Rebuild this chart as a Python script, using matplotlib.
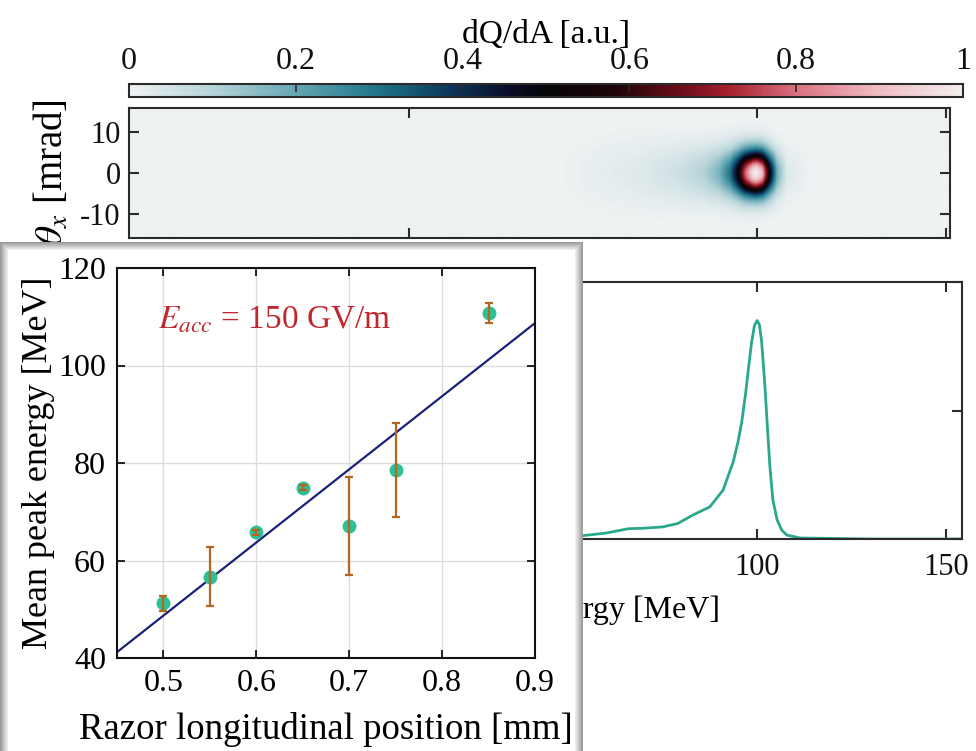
import numpy as np
import matplotlib.pyplot as plt
from matplotlib.colors import LinearSegmentedColormap
from matplotlib.patches import Rectangle

plt.rcParams['font.family'] = ['Liberation Serif', 'DejaVu Serif']
plt.rcParams['mathtext.fontset'] = 'stix'

# energy spectrum (lower panel)
spec_energy = [-66, 0, 30, 52, 60, 66, 70, 75, 79, 83, 87.5, 91, 93.7, 95, 96, 97,
               97.7, 98.5, 99.3, 100, 100.6, 101.2, 102.1, 102.8, 103.4, 104.2,
               105.3, 106.5, 107.9, 111.4, 130, 154]
spec_value = [0.0, 0.0, 0.002, 0.01, 0.023, 0.04, 0.042, 0.047, 0.06, 0.093, 0.125,
              0.19, 0.30, 0.38, 0.46, 0.57, 0.66, 0.76, 0.83, 0.85, 0.835, 0.77, 0.59,
              0.42, 0.28, 0.15, 0.075, 0.035, 0.015, 0.004, 0.0, 0.0]

# on-axis charge density and angular width of the beam map (upper panel)
map_energy = [45, 55, 70, 80, 86, 90, 93, 95, 97, 99, 100, 101.5, 103.5, 105.5, 108, 115]
map_peak = [0.0, 0.01, 0.03, 0.06, 0.1, 0.17, 0.3, 0.5, 0.78, 0.97, 1.0, 0.9, 0.5, 0.18, 0.03, 0.0]
map_width = [6, 6, 5.5, 5, 4.6, 4.3, 4.1, 4, 3.9, 3.8, 3.8, 3.8, 3.8, 3.8, 3.8, 3.8]

# inset: mean peak energy vs razor position
razor_pos = [0.5, 0.55, 0.6, 0.65, 0.7, 0.75, 0.85]
peak_energy = [51.2, 56.7, 65.8, 74.9, 67.1, 78.6, 110.8]
peak_err = [1.5, 6.0, 0.5, 0.5, 10.0, 9.6, 2.1]
fit_slope = 150.0      # MeV/mm
fit_intercept = -26.3  # MeV

cmap = LinearSegmentedColormap.from_list('dqda', [
    (0.0, '#eef2f2'), (0.1, '#b5d3d9'), (0.2, '#64a6b3'), (0.3, '#1d7388'),
    (0.38, '#0d3a5e'), (0.45, '#0b0f2c'), (0.5, '#050507'), (0.58, '#1c0508'),
    (0.66, '#6a0c18'), (0.72, '#a5202c'), (0.8, '#d9707f'), (0.9, '#efbcc3'),
    (1.0, '#f3eeee')])

W, H = 976, 751


def box(x0, y0, x1, y1):
    # pixel box (top-left origin) -> figure fraction rect
    return [x0 / W, 1 - y1 / H, (x1 - x0) / W, (y1 - y0) / H]


fig = plt.figure(figsize=(9.76, 7.51), dpi=100)
spine_c = '#2b2b2b'

# --- upper map ---
ax_map = fig.add_axes(box(129, 108, 950, 238))
e_grid = np.linspace(-66.1, 151.1, 900)
t_grid = np.linspace(-16, 16, 200)
amp = np.interp(e_grid, map_energy, map_peak)
sig = np.interp(e_grid, map_energy, map_width)
img = amp[None, :] * np.exp(-t_grid[:, None] ** 2 / (2 * sig[None, :] ** 2))
im = ax_map.imshow(img, extent=[-66.1, 151.1, -16, 16], origin='lower', aspect='auto',
                   cmap=cmap, vmin=0, vmax=1, interpolation='bilinear')
ax_map.set_xlim(-66.1, 151.1)
ax_map.set_ylim(-16, 16)
ax_map.set_xticks([8, 100, 150])
ax_map.set_xticklabels([])
ax_map.set_yticks([-10, 0, 10])
ax_map.set_yticklabels(['-10', '0', '10'])
ax_map.tick_params(direction='in', length=7, width=1.5, top=True, right=True,
                   labelsize=22, colors=spine_c, labelcolor='#111111', pad=6)
ax_map.set_ylabel(r'$\theta_x$ [mrad]', fontsize=28, labelpad=6)
for s in ax_map.spines.values():
    s.set_color(spine_c)
    s.set_linewidth(1.5)

# --- colorbar ---
cax = fig.add_axes(box(129, 84, 963, 97))
cb = fig.colorbar(im, cax=cax, orientation='horizontal', ticks=[0, 0.2, 0.4, 0.6, 0.8, 1])
cb.set_ticklabels(['0', '0.2', '0.4', '0.6', '0.8', '1'])
cax.xaxis.set_ticks_position('top')
cax.xaxis.set_label_position('top')
cax.tick_params(direction='in', length=6, width=1.2, labelsize=23, pad=6, colors=spine_c,
                labelcolor='#111111')
cb.set_label('dQ/dA [a.u.]', fontsize=24, labelpad=3)
cb.outline.set_edgecolor(spine_c)
cb.outline.set_linewidth(1.5)

# --- lower spectrum ---
ax_sp = fig.add_axes(box(129, 282, 962, 539))
ax_sp.plot(spec_energy, spec_value, color='#2aa88c', lw=2)
ax_sp.set_xlim(-66.1, 154.2)
ax_sp.set_ylim(0, 1)
ax_sp.set_xticks([0, 50, 100, 150])
ax_sp.set_yticks([0, 0.5, 1])
ax_sp.tick_params(direction='in', length=7, width=1.5, top=True, right=True,
                  labelleft=False, labelsize=22, colors=spine_c, labelcolor='#111111', pad=10)
ax_sp.set_xlabel('Energy [MeV]', fontsize=23, labelpad=4)
ax_sp.xaxis.set_label_coords(0.597, -0.22)
for s in ax_sp.spines.values():
    s.set_color(spine_c)
    s.set_linewidth(1.5)

# --- inset panel with shaded border ---
ax_pan = fig.add_axes(box(0, 242, 583, 751))
ax_pan.set_zorder(5)
ax_pan.set_xlim(0, 583)
ax_pan.set_ylim(509, 0)
ax_pan.axis('off')
shades = ['#9a9a9a', '#a6a6a6', '#b3b3b3', '#bfbfbf', '#cbcbcb', '#d7d7d7', '#e2e2e2', '#ececec', '#ffffff']
for i, c in enumerate(shades):
    ax_pan.add_patch(Rectangle((i, i), 583 - 2 * i, 600, facecolor=c, edgecolor='none'))

ax_in = fig.add_axes(box(117, 268, 535, 658))
ax_in.set_zorder(6)
ax_in.set_facecolor('white')
ax_in.set_xlim(0.45, 0.9)
ax_in.set_ylim(40, 120)
ax_in.grid(True, color='#dcdcdc', lw=1)
ax_in.set_axisbelow(True)
fit_x = np.array(ax_in.get_xlim())
ax_in.plot(fit_x, fit_intercept + fit_slope * fit_x, color='#1c2178', lw=1.6, zorder=2)
ax_in.plot(razor_pos, peak_energy, 'o', color='#2dbf95', ms=9, zorder=3)
ax_in.errorbar(razor_pos, peak_energy, yerr=peak_err, fmt='none', ecolor='#b5651d',
               elinewidth=1.6, capsize=3, capthick=1.6, zorder=4)
ax_in.set_xticks([0.5, 0.6, 0.7, 0.8, 0.9])
ax_in.set_yticks([40, 60, 80, 100, 120])
ax_in.tick_params(direction='in', length=6, width=1.2, top=True, right=True,
                  labelsize=23, pad=8)
ax_in.set_xlabel('Razor longitudinal position [mm]', fontsize=26.5, labelpad=10)
ax_in.set_ylabel('Mean peak energy [MeV]', fontsize=26, labelpad=2)
ax_in.text(0.494, 109.3, r'$E_{acc}$ = 150 GV/m', color='#c0262c', fontsize=24, va='center')
for s in ax_in.spines.values():
    s.set_color('#111111')
    s.set_linewidth(1.5)

fig.savefig('out.png', dpi=100, facecolor='white')
